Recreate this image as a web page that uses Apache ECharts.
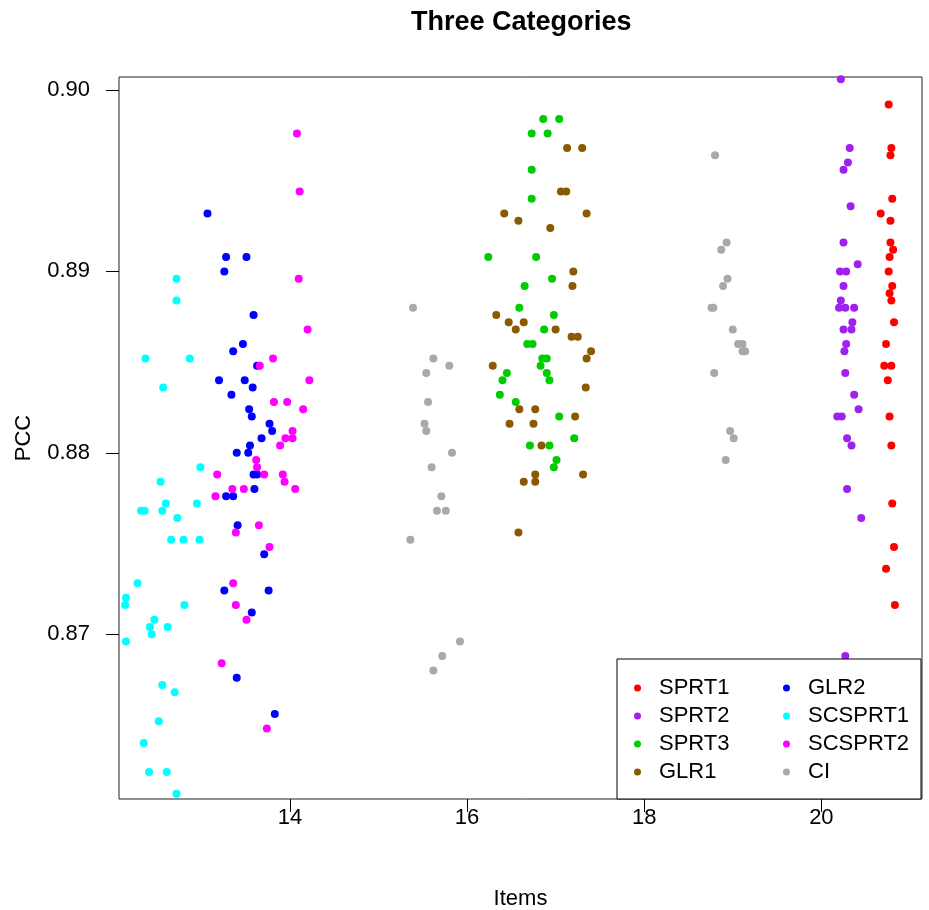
<!DOCTYPE html>
<html lang="en">
<head>
    <meta charset="UTF-8">
    <title>Three Categories</title>
    <script src="https://cdn.jsdelivr.net/npm/echarts@6/dist/echarts.min.js"></script>
    <style>
        html, body {
            margin: 0;
            background: #fff;
        }
        #main {
            width: 929px;
            height: 910px;
        }
    </style>
</head>
<body>
<div id="main"></div>
<script>
    // values: [items, PCC]
    var sprt1 = [[20.76, 0.8992], [20.79, 0.8968], [20.78, 0.8964], [20.80, 0.8940], [20.67, 0.8932], [20.78, 0.8928],
        [20.78, 0.8916], [20.81, 0.8912], [20.77, 0.8908], [20.76, 0.8900], [20.80, 0.8892], [20.77, 0.8888],
        [20.79, 0.8884], [20.82, 0.8872], [20.73, 0.8860], [20.71, 0.8848], [20.79, 0.8848], [20.75, 0.8840],
        [20.77, 0.8820], [20.79, 0.8804], [20.80, 0.8772], [20.82, 0.8748], [20.73, 0.8736], [20.83, 0.8716]];
    var sprt2 = [[20.22, 0.9006], [20.32, 0.8968], [20.30, 0.8960], [20.25, 0.8956], [20.33, 0.8936], [20.25, 0.8916],
        [20.41, 0.8904], [20.21, 0.8900], [20.28, 0.8900], [20.25, 0.8892], [20.22, 0.8884], [20.20, 0.8880],
        [20.27, 0.8880], [20.37, 0.8880], [20.35, 0.8872], [20.25, 0.8868], [20.34, 0.8868], [20.28, 0.8860],
        [20.26, 0.8856], [20.27, 0.8844], [20.37, 0.8832], [20.42, 0.8824], [20.18, 0.8820], [20.23, 0.8820],
        [20.29, 0.8808], [20.34, 0.8804], [20.29, 0.8780], [20.45, 0.8764], [20.27, 0.8688]];
    var sprt3 = [[16.86, 0.8984], [17.04, 0.8984], [16.73, 0.8976], [16.91, 0.8976], [16.73, 0.8956], [16.73, 0.8940],
        [16.24, 0.8908], [16.78, 0.8908], [16.96, 0.8896], [16.65, 0.8892], [16.59, 0.8880], [16.98, 0.8876],
        [16.87, 0.8868], [16.68, 0.8860], [16.74, 0.8860], [16.85, 0.8852], [16.90, 0.8852], [16.83, 0.8848],
        [16.45, 0.8844], [16.90, 0.8844], [16.40, 0.8840], [16.93, 0.8840], [16.37, 0.8832], [16.55, 0.8828],
        [17.04, 0.8820], [17.21, 0.8808], [16.71, 0.8804], [16.93, 0.8804], [17.01, 0.8796], [16.98, 0.8792]];
    var glr1 = [[17.13, 0.8968], [17.30, 0.8968], [17.06, 0.8944], [17.12, 0.8944], [16.42, 0.8932], [16.58, 0.8928],
        [17.35, 0.8932], [16.94, 0.8924], [17.20, 0.8900], [17.19, 0.8892], [16.33, 0.8876], [16.47, 0.8872],
        [16.64, 0.8872], [16.55, 0.8868], [17.00, 0.8868], [17.18, 0.8864], [17.25, 0.8864], [17.40, 0.8856],
        [17.35, 0.8852], [16.29, 0.8848], [17.34, 0.8836], [16.59, 0.8824], [16.77, 0.8824], [16.48, 0.8816],
        [16.75, 0.8816], [17.22, 0.8820], [16.84, 0.8804], [16.77, 0.8788], [16.64, 0.8784], [16.77, 0.8784],
        [17.31, 0.8788], [16.58, 0.8756]];
    var glr2 = [[13.07, 0.8932], [13.28, 0.8908], [13.51, 0.8908], [13.26, 0.8900], [13.59, 0.8876], [13.47, 0.8860],
        [13.36, 0.8856], [13.63, 0.8848], [13.20, 0.8840], [13.49, 0.8840], [13.58, 0.8836], [13.34, 0.8832],
        [13.54, 0.8824], [13.57, 0.8820], [13.77, 0.8816], [13.80, 0.8812], [13.68, 0.8808], [13.55, 0.8804],
        [13.40, 0.8800], [13.53, 0.8800], [13.59, 0.8788], [13.63, 0.8788], [13.60, 0.8780], [13.28, 0.8776],
        [13.36, 0.8776], [13.41, 0.8760], [13.71, 0.8744], [13.26, 0.8724], [13.76, 0.8724], [13.57, 0.8712],
        [13.40, 0.8676], [13.83, 0.8656]];
    var scsprt1 = [[12.72, 0.8896], [12.72, 0.8884], [12.37, 0.8852], [12.87, 0.8852], [12.57, 0.8836], [12.99, 0.8792],
        [12.54, 0.8784], [12.60, 0.8772], [12.95, 0.8772], [12.32, 0.8768], [12.36, 0.8768], [12.56, 0.8768],
        [12.73, 0.8764], [12.66, 0.8752], [12.80, 0.8752], [12.98, 0.8752], [12.28, 0.8728], [12.15, 0.8720],
        [12.14, 0.8716], [12.81, 0.8716], [12.47, 0.8708], [12.42, 0.8704], [12.62, 0.8704], [12.44, 0.8700],
        [12.15, 0.8696], [12.56, 0.8672], [12.70, 0.8668], [12.52, 0.8652], [12.35, 0.8640], [12.41, 0.8624],
        [12.61, 0.8624], [12.72, 0.8612]];
    var scsprt2 = [[14.08, 0.8976], [14.11, 0.8944], [14.10, 0.8896], [14.20, 0.8868], [13.81, 0.8852], [13.66, 0.8848],
        [14.22, 0.8840], [13.82, 0.8828], [13.97, 0.8828], [14.15, 0.8824], [14.03, 0.8812], [13.95, 0.8808],
        [14.03, 0.8808], [13.89, 0.8804], [13.62, 0.8796], [13.63, 0.8792], [13.18, 0.8788], [13.71, 0.8788],
        [13.92, 0.8788], [13.94, 0.8784], [13.35, 0.8780], [13.48, 0.8780], [14.06, 0.8780], [13.16, 0.8776],
        [13.65, 0.8760], [13.39, 0.8756], [13.77, 0.8748], [13.36, 0.8728], [13.39, 0.8716], [13.51, 0.8708],
        [13.23, 0.8684], [13.74, 0.8648]];
    var ci = [[15.39, 0.8880], [15.62, 0.8852], [15.80, 0.8848], [15.54, 0.8844], [15.56, 0.8828], [15.52, 0.8816],
        [15.54, 0.8812], [15.83, 0.8800], [15.60, 0.8792], [15.71, 0.8776], [15.66, 0.8768], [15.76, 0.8768],
        [15.36, 0.8752], [15.92, 0.8696], [15.72, 0.8688], [15.62, 0.8680],
        [18.80, 0.8964], [18.93, 0.8916], [18.87, 0.8912], [18.94, 0.8896], [18.89, 0.8892], [18.76, 0.8880],
        [18.78, 0.8880], [19.00, 0.8868], [19.06, 0.8860], [19.11, 0.8860], [19.11, 0.8856], [19.14, 0.8856],
        [18.79, 0.8844], [18.97, 0.8812], [19.01, 0.8808], [18.92, 0.8796]];

    var names = ['SPRT1', 'SPRT2', 'SPRT3', 'GLR1', 'GLR2', 'SCSPRT1', 'SCSPRT2', 'CI'];
    var colors = ['#FF0000', '#A020F0', '#00CD00', '#8B5A00', '#0000FF', '#00FFFF', '#FF00FF', '#A9A9A9'];
    var groups = [sprt1, sprt2, sprt3, glr1, glr2, scsprt1, scsprt2, ci];
    var xTicks = [14, 16, 18, 20];
    var yTicks = [0.87, 0.88, 0.89, 0.90];

    var font = 'Liberation Sans, Arial, Helvetica, sans-serif';
    var myChart = echarts.init(document.getElementById('main'));

    var series = [];
    for (var i = 0; i < groups.length; i++) {
        series.push({
            name: names[i],
            type: 'scatter',
            symbol: 'circle',
            symbolSize: 8,
            itemStyle: {color: colors[i], opacity: 1},
            emphasis: {disabled: true},
            data: groups[i]
        });
    }

    function legendPart(list, left) {
        return {
            orient: 'vertical',
            left: left,
            top: 677,
            padding: 0,
            itemGap: 6,
            itemWidth: 33,
            itemHeight: 7,
            icon: 'circle',
            z: 50,
            selectedMode: false,
            textStyle: {fontFamily: font, fontSize: 22, lineHeight: 22, color: '#000'},
            data: list
        };
    }

    var option = {
        backgroundColor: '#fff',
        animation: false,
        title: {
            text: 'Three Categories',
            left: 411,
            top: 9,
            padding: 0,
            textStyle: {fontFamily: font, fontSize: 27, fontWeight: 'bold', color: '#000'}
        },
        legend: [legendPart(names.slice(0, 4), 634), legendPart(names.slice(4), 783)],
        grid: {
            left: 119,
            right: 7,
            top: 77,
            bottom: 111,
            show: true,
            borderColor: '#222',
            borderWidth: 1,
            outerBoundsMode: 'none'
        },
        xAxis: {
            type: 'value',
            min: 12.071,
            max: 21.136,
            name: 'Items',
            nameLocation: 'middle',
            nameGap: 89,
            nameTextStyle: {fontFamily: font, fontSize: 22, color: '#000'},
            axisLine: {show: false},
            splitLine: {show: false},
            axisTick: {show: true, inside: false, length: 13, lineStyle: {color: '#000'}, customValues: xTicks},
            axisLabel: {fontFamily: font, fontSize: 22, color: '#000', margin: 8, customValues: xTicks}
        },
        yAxis: {
            type: 'value',
            min: 0.86091,
            max: 0.90072,
            name: 'PCC',
            nameLocation: 'middle',
            nameGap: 84,
            nameTextStyle: {fontFamily: font, fontSize: 22, color: '#000'},
            axisLine: {show: false},
            splitLine: {show: false},
            axisTick: {show: true, inside: false, length: 13, lineStyle: {color: '#000'}, customValues: yTicks},
            axisLabel: {
                fontFamily: font, fontSize: 22, color: '#000', margin: 29, customValues: yTicks,
                formatter: function (v) {
                    return v.toFixed(2);
                }
            }
        },
        graphic: [{
            type: 'rect',
            z: 40,
            shape: {x: 617, y: 659, width: 304, height: 140},
            style: {fill: '#fff', stroke: '#000', lineWidth: 1}
        }],
        series: series
    };

    myChart.setOption(option);
</script>
</body>
</html>
